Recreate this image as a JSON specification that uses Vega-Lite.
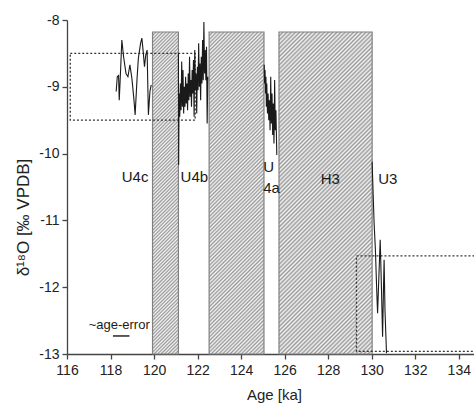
{
  "$schema": "https://vega.github.io/schema/vega-lite/v6.json",
  "width": 407,
  "height": 334,
  "autosize": {"type": "none"},
  "padding": {"left": 67, "top": 20, "right": 0, "bottom": 54},
  "config": {
    "view": {"stroke": null},
    "font": "Liberation Sans",
    "axis": {
      "grid": false,
      "domainColor": "#444",
      "domainWidth": 1.3,
      "tickColor": "#444",
      "tickWidth": 1.3,
      "labelFont": "Liberation Sans Narrow, Liberation Sans",
      "labelFontSize": 14,
      "labelColor": "#222",
      "titleFont": "Liberation Sans",
      "titleFontWeight": "normal",
      "titleColor": "#222",
      "labelOverlap": false,
      "labelFlush": false
    }
  },
  "datasets": {
    "boxes": [
      {"name": "b1", "x1": 119.93, "x2": 121.12, "top": -8.18, "bottom": -13},
      {"name": "b2", "x1": 122.53, "x2": 125.05, "top": -8.18, "bottom": -13},
      {"name": "b3", "x1": 125.74, "x2": 130.02, "top": -8.18, "bottom": -13}
    ],
    "dots": [
      {"x1": 116.15, "x2": 121.89, "top": -8.5, "bottom": -9.5},
      {"x1": 129.3, "x2": 135.2, "top": -11.53, "bottom": -12.96}
    ],
    "series": [
      {"seg": "c", "age": 118.26, "d": -9.07},
      {"seg": "c", "age": 118.31, "d": -8.85},
      {"seg": "c", "age": 118.37, "d": -8.83},
      {"seg": "c", "age": 118.40, "d": -9.20},
      {"seg": "c", "age": 118.44, "d": -8.92},
      {"seg": "c", "age": 118.52, "d": -8.30},
      {"seg": "c", "age": 118.60, "d": -8.55},
      {"seg": "c", "age": 118.71, "d": -8.80},
      {"seg": "c", "age": 118.80, "d": -8.85},
      {"seg": "c", "age": 118.89, "d": -8.67},
      {"seg": "c", "age": 118.98, "d": -8.87},
      {"seg": "c", "age": 119.07, "d": -9.17},
      {"seg": "c", "age": 119.13, "d": -9.42},
      {"seg": "c", "age": 119.22, "d": -8.87},
      {"seg": "c", "age": 119.28, "d": -8.57},
      {"seg": "c", "age": 119.38, "d": -8.35},
      {"seg": "c", "age": 119.44, "d": -8.27},
      {"seg": "c", "age": 119.50, "d": -8.47},
      {"seg": "c", "age": 119.56, "d": -8.70},
      {"seg": "c", "age": 119.62, "d": -8.52},
      {"seg": "c", "age": 119.68, "d": -8.45},
      {"seg": "c", "age": 119.74, "d": -9.42},
      {"seg": "c", "age": 119.81, "d": -9.07},
      {"seg": "c", "age": 119.87, "d": -8.97},
      {"seg": "b", "age": 121.12, "d": -8.50},
      {"seg": "b", "age": 121.13, "d": -10.17},
      {"seg": "b", "age": 121.15, "d": -9.10},
      {"seg": "b", "age": 121.18, "d": -9.45},
      {"seg": "b", "age": 121.21, "d": -8.95},
      {"seg": "b", "age": 121.24, "d": -9.35},
      {"seg": "b", "age": 121.27, "d": -8.62},
      {"seg": "b", "age": 121.30, "d": -9.30},
      {"seg": "b", "age": 121.33, "d": -8.75},
      {"seg": "b", "age": 121.36, "d": -9.40},
      {"seg": "b", "age": 121.39, "d": -9.00},
      {"seg": "b", "age": 121.42, "d": -9.30},
      {"seg": "b", "age": 121.45, "d": -8.85},
      {"seg": "b", "age": 121.48, "d": -9.25},
      {"seg": "b", "age": 121.51, "d": -8.95},
      {"seg": "b", "age": 121.54, "d": -9.35},
      {"seg": "b", "age": 121.57, "d": -8.80},
      {"seg": "b", "age": 121.60, "d": -9.20},
      {"seg": "b", "age": 121.63, "d": -8.55},
      {"seg": "b", "age": 121.66, "d": -9.15},
      {"seg": "b", "age": 121.69, "d": -8.90},
      {"seg": "b", "age": 121.72, "d": -9.30},
      {"seg": "b", "age": 121.75, "d": -8.75},
      {"seg": "b", "age": 121.78, "d": -9.10},
      {"seg": "b", "age": 121.81, "d": -8.60},
      {"seg": "b", "age": 121.84, "d": -9.45},
      {"seg": "b", "age": 121.87, "d": -8.45},
      {"seg": "b", "age": 121.90, "d": -9.05},
      {"seg": "b", "age": 121.93, "d": -8.80},
      {"seg": "b", "age": 121.96, "d": -9.40},
      {"seg": "b", "age": 121.99, "d": -8.70},
      {"seg": "b", "age": 122.02, "d": -9.05},
      {"seg": "b", "age": 122.05, "d": -8.35},
      {"seg": "b", "age": 122.08, "d": -9.00},
      {"seg": "b", "age": 122.11, "d": -8.65},
      {"seg": "b", "age": 122.14, "d": -9.20},
      {"seg": "b", "age": 122.17, "d": -8.55},
      {"seg": "b", "age": 122.20, "d": -8.95},
      {"seg": "b", "age": 122.23, "d": -8.30},
      {"seg": "b", "age": 122.26, "d": -8.90},
      {"seg": "b", "age": 122.29, "d": -8.03},
      {"seg": "b", "age": 122.32, "d": -8.80},
      {"seg": "b", "age": 122.35, "d": -8.45},
      {"seg": "b", "age": 122.38, "d": -8.90},
      {"seg": "b", "age": 122.41, "d": -8.40},
      {"seg": "b", "age": 122.44, "d": -9.55},
      {"seg": "b", "age": 122.47, "d": -8.85},
      {"seg": "a", "age": 125.06, "d": -8.67},
      {"seg": "a", "age": 125.08, "d": -8.95},
      {"seg": "a", "age": 125.10, "d": -8.75},
      {"seg": "a", "age": 125.12, "d": -9.10},
      {"seg": "a", "age": 125.14, "d": -8.85},
      {"seg": "a", "age": 125.16, "d": -9.30},
      {"seg": "a", "age": 125.18, "d": -8.95},
      {"seg": "a", "age": 125.21, "d": -9.40},
      {"seg": "a", "age": 125.24, "d": -9.10},
      {"seg": "a", "age": 125.27, "d": -9.50},
      {"seg": "a", "age": 125.30, "d": -9.20},
      {"seg": "a", "age": 125.33, "d": -9.65},
      {"seg": "a", "age": 125.36, "d": -8.85},
      {"seg": "a", "age": 125.39, "d": -9.55},
      {"seg": "a", "age": 125.42, "d": -9.10},
      {"seg": "a", "age": 125.45, "d": -9.72},
      {"seg": "a", "age": 125.48, "d": -9.25},
      {"seg": "a", "age": 125.51, "d": -9.85},
      {"seg": "a", "age": 125.54, "d": -8.90},
      {"seg": "a", "age": 125.57, "d": -9.65},
      {"seg": "a", "age": 125.60, "d": -9.35},
      {"seg": "a", "age": 125.64, "d": -10.02},
      {"seg": "u3", "age": 130.02, "d": -10.12},
      {"seg": "u3", "age": 130.06, "d": -10.54},
      {"seg": "u3", "age": 130.11, "d": -11.04},
      {"seg": "u3", "age": 130.17, "d": -11.44},
      {"seg": "u3", "age": 130.23, "d": -12.04},
      {"seg": "u3", "age": 130.27, "d": -12.39},
      {"seg": "u3", "age": 130.33, "d": -11.84},
      {"seg": "u3", "age": 130.39, "d": -11.29},
      {"seg": "u3", "age": 130.45, "d": -12.04},
      {"seg": "u3", "age": 130.50, "d": -12.74},
      {"seg": "u3", "age": 130.54, "d": -12.04},
      {"seg": "u3", "age": 130.57, "d": -11.59},
      {"seg": "u3", "age": 130.61, "d": -12.34},
      {"seg": "u3", "age": 130.68, "d": -12.99}
    ],
    "labels": [
      {"x": 119.13, "y": -10.35, "t": "U4c"},
      {"x": 121.85, "y": -10.35, "t": "U4b"},
      {"x": 125.27, "y": -10.2, "t": "U"},
      {"x": 125.4, "y": -10.52, "t": "4a"},
      {"x": 128.1, "y": -10.38, "t": "H3"},
      {"x": 130.74, "y": -10.38, "t": "U3"}
    ],
    "err": [
      {"x": 118.4, "y": -12.56, "x1": 118.11, "x2": 118.87, "yl": -12.73, "t": "~age-error"}
    ]
  },
  "layer": [
    {
      "data": {"name": "boxes"},
      "transform": [{"filter": "datum.name == 'b1'"}],
      "mark": {
        "type": "rect", "stroke": "#808080", "strokeWidth": 1.2,
        "fill": {"gradient": "linear", "x1": 0, "y1": 0, "x2": 0.08634, "y2": 1.07348, "stops": [
{"offset":0,"color":"#999"},{"offset":0.005,"color":"#f6f6f6"},{"offset":0.01,"color":"#999"},{"offset":0.015,"color":"#f6f6f6"},{"offset":0.02,"color":"#999"},{"offset":0.025,"color":"#f6f6f6"},{"offset":0.03,"color":"#999"},{"offset":0.035,"color":"#f6f6f6"},{"offset":0.04,"color":"#999"},{"offset":0.045,"color":"#f6f6f6"},{"offset":0.05,"color":"#999"},{"offset":0.055,"color":"#f6f6f6"},{"offset":0.06,"color":"#999"},{"offset":0.065,"color":"#f6f6f6"},{"offset":0.07,"color":"#999"},{"offset":0.075,"color":"#f6f6f6"},{"offset":0.08,"color":"#999"},{"offset":0.085,"color":"#f6f6f6"},{"offset":0.09,"color":"#999"},{"offset":0.095,"color":"#f6f6f6"},
{"offset":0.1,"color":"#999"},{"offset":0.105,"color":"#f6f6f6"},{"offset":0.11,"color":"#999"},{"offset":0.115,"color":"#f6f6f6"},{"offset":0.12,"color":"#999"},{"offset":0.125,"color":"#f6f6f6"},{"offset":0.13,"color":"#999"},{"offset":0.135,"color":"#f6f6f6"},{"offset":0.14,"color":"#999"},{"offset":0.145,"color":"#f6f6f6"},{"offset":0.15,"color":"#999"},{"offset":0.155,"color":"#f6f6f6"},{"offset":0.16,"color":"#999"},{"offset":0.165,"color":"#f6f6f6"},{"offset":0.17,"color":"#999"},{"offset":0.175,"color":"#f6f6f6"},{"offset":0.18,"color":"#999"},{"offset":0.185,"color":"#f6f6f6"},{"offset":0.19,"color":"#999"},{"offset":0.195,"color":"#f6f6f6"},
{"offset":0.2,"color":"#999"},{"offset":0.205,"color":"#f6f6f6"},{"offset":0.21,"color":"#999"},{"offset":0.215,"color":"#f6f6f6"},{"offset":0.22,"color":"#999"},{"offset":0.225,"color":"#f6f6f6"},{"offset":0.23,"color":"#999"},{"offset":0.235,"color":"#f6f6f6"},{"offset":0.24,"color":"#999"},{"offset":0.245,"color":"#f6f6f6"},{"offset":0.25,"color":"#999"},{"offset":0.255,"color":"#f6f6f6"},{"offset":0.26,"color":"#999"},{"offset":0.265,"color":"#f6f6f6"},{"offset":0.27,"color":"#999"},{"offset":0.275,"color":"#f6f6f6"},{"offset":0.28,"color":"#999"},{"offset":0.285,"color":"#f6f6f6"},{"offset":0.29,"color":"#999"},{"offset":0.295,"color":"#f6f6f6"},
{"offset":0.3,"color":"#999"},{"offset":0.305,"color":"#f6f6f6"},{"offset":0.31,"color":"#999"},{"offset":0.315,"color":"#f6f6f6"},{"offset":0.32,"color":"#999"},{"offset":0.325,"color":"#f6f6f6"},{"offset":0.33,"color":"#999"},{"offset":0.335,"color":"#f6f6f6"},{"offset":0.34,"color":"#999"},{"offset":0.345,"color":"#f6f6f6"},{"offset":0.35,"color":"#999"},{"offset":0.355,"color":"#f6f6f6"},{"offset":0.36,"color":"#999"},{"offset":0.365,"color":"#f6f6f6"},{"offset":0.37,"color":"#999"},{"offset":0.375,"color":"#f6f6f6"},{"offset":0.38,"color":"#999"},{"offset":0.385,"color":"#f6f6f6"},{"offset":0.39,"color":"#999"},{"offset":0.395,"color":"#f6f6f6"},
{"offset":0.4,"color":"#999"},{"offset":0.405,"color":"#f6f6f6"},{"offset":0.41,"color":"#999"},{"offset":0.415,"color":"#f6f6f6"},{"offset":0.42,"color":"#999"},{"offset":0.425,"color":"#f6f6f6"},{"offset":0.43,"color":"#999"},{"offset":0.435,"color":"#f6f6f6"},{"offset":0.44,"color":"#999"},{"offset":0.445,"color":"#f6f6f6"},{"offset":0.45,"color":"#999"},{"offset":0.455,"color":"#f6f6f6"},{"offset":0.46,"color":"#999"},{"offset":0.465,"color":"#f6f6f6"},{"offset":0.47,"color":"#999"},{"offset":0.475,"color":"#f6f6f6"},{"offset":0.48,"color":"#999"},{"offset":0.485,"color":"#f6f6f6"},{"offset":0.49,"color":"#999"},{"offset":0.495,"color":"#f6f6f6"},
{"offset":0.5,"color":"#999"},{"offset":0.505,"color":"#f6f6f6"},{"offset":0.51,"color":"#999"},{"offset":0.515,"color":"#f6f6f6"},{"offset":0.52,"color":"#999"},{"offset":0.525,"color":"#f6f6f6"},{"offset":0.53,"color":"#999"},{"offset":0.535,"color":"#f6f6f6"},{"offset":0.54,"color":"#999"},{"offset":0.545,"color":"#f6f6f6"},{"offset":0.55,"color":"#999"},{"offset":0.555,"color":"#f6f6f6"},{"offset":0.56,"color":"#999"},{"offset":0.565,"color":"#f6f6f6"},{"offset":0.57,"color":"#999"},{"offset":0.575,"color":"#f6f6f6"},{"offset":0.58,"color":"#999"},{"offset":0.585,"color":"#f6f6f6"},{"offset":0.59,"color":"#999"},{"offset":0.595,"color":"#f6f6f6"},
{"offset":0.6,"color":"#999"},{"offset":0.605,"color":"#f6f6f6"},{"offset":0.61,"color":"#999"},{"offset":0.615,"color":"#f6f6f6"},{"offset":0.62,"color":"#999"},{"offset":0.625,"color":"#f6f6f6"},{"offset":0.63,"color":"#999"},{"offset":0.635,"color":"#f6f6f6"},{"offset":0.64,"color":"#999"},{"offset":0.645,"color":"#f6f6f6"},{"offset":0.65,"color":"#999"},{"offset":0.655,"color":"#f6f6f6"},{"offset":0.66,"color":"#999"},{"offset":0.665,"color":"#f6f6f6"},{"offset":0.67,"color":"#999"},{"offset":0.675,"color":"#f6f6f6"},{"offset":0.68,"color":"#999"},{"offset":0.685,"color":"#f6f6f6"},{"offset":0.69,"color":"#999"},{"offset":0.695,"color":"#f6f6f6"},
{"offset":0.7,"color":"#999"},{"offset":0.705,"color":"#f6f6f6"},{"offset":0.71,"color":"#999"},{"offset":0.715,"color":"#f6f6f6"},{"offset":0.72,"color":"#999"},{"offset":0.725,"color":"#f6f6f6"},{"offset":0.73,"color":"#999"},{"offset":0.735,"color":"#f6f6f6"},{"offset":0.74,"color":"#999"},{"offset":0.745,"color":"#f6f6f6"},{"offset":0.75,"color":"#999"},{"offset":0.755,"color":"#f6f6f6"},{"offset":0.76,"color":"#999"},{"offset":0.765,"color":"#f6f6f6"},{"offset":0.77,"color":"#999"},{"offset":0.775,"color":"#f6f6f6"},{"offset":0.78,"color":"#999"},{"offset":0.785,"color":"#f6f6f6"},{"offset":0.79,"color":"#999"},{"offset":0.795,"color":"#f6f6f6"},
{"offset":0.8,"color":"#999"},{"offset":0.805,"color":"#f6f6f6"},{"offset":0.81,"color":"#999"},{"offset":0.815,"color":"#f6f6f6"},{"offset":0.82,"color":"#999"},{"offset":0.825,"color":"#f6f6f6"},{"offset":0.83,"color":"#999"},{"offset":0.835,"color":"#f6f6f6"},{"offset":0.84,"color":"#999"},{"offset":0.845,"color":"#f6f6f6"},{"offset":0.85,"color":"#999"},{"offset":0.855,"color":"#f6f6f6"},{"offset":0.86,"color":"#999"},{"offset":0.865,"color":"#f6f6f6"},{"offset":0.87,"color":"#999"},{"offset":0.875,"color":"#f6f6f6"},{"offset":0.88,"color":"#999"},{"offset":0.885,"color":"#f6f6f6"},{"offset":0.89,"color":"#999"},{"offset":0.895,"color":"#f6f6f6"},
{"offset":0.9,"color":"#999"},{"offset":0.905,"color":"#f6f6f6"},{"offset":0.91,"color":"#999"},{"offset":0.915,"color":"#f6f6f6"},{"offset":0.92,"color":"#999"},{"offset":0.925,"color":"#f6f6f6"},{"offset":0.93,"color":"#999"},{"offset":0.935,"color":"#f6f6f6"},{"offset":0.94,"color":"#999"},{"offset":0.945,"color":"#f6f6f6"},{"offset":0.95,"color":"#999"},{"offset":0.955,"color":"#f6f6f6"},{"offset":0.96,"color":"#999"},{"offset":0.965,"color":"#f6f6f6"},{"offset":0.97,"color":"#999"},{"offset":0.975,"color":"#f6f6f6"},{"offset":0.98,"color":"#999"},{"offset":0.985,"color":"#f6f6f6"},{"offset":0.99,"color":"#999"},{"offset":0.995,"color":"#f6f6f6"},{"offset":1,"color":"#999"}
        ]}
      },
      "encoding": {
        "x": {"field": "x1", "type": "quantitative"},
        "x2": {"field": "x2"},
        "y": {"field": "top", "type": "quantitative"},
        "y2": {"field": "bottom"}
      }
    },
    {
      "data": {"name": "boxes"},
      "transform": [{"filter": "datum.name == 'b2'"}],
      "mark": {
        "type": "rect", "stroke": "#808080", "strokeWidth": 1.2,
        "fill": {"gradient": "linear", "x1": 0, "y1": 0, "x2": 0.19374, "y2": 1.13734, "stops": [
{"offset":0,"color":"#999"},{"offset":0.005,"color":"#f6f6f6"},{"offset":0.01,"color":"#999"},{"offset":0.015,"color":"#f6f6f6"},{"offset":0.02,"color":"#999"},{"offset":0.025,"color":"#f6f6f6"},{"offset":0.03,"color":"#999"},{"offset":0.035,"color":"#f6f6f6"},{"offset":0.04,"color":"#999"},{"offset":0.045,"color":"#f6f6f6"},{"offset":0.05,"color":"#999"},{"offset":0.055,"color":"#f6f6f6"},{"offset":0.06,"color":"#999"},{"offset":0.065,"color":"#f6f6f6"},{"offset":0.07,"color":"#999"},{"offset":0.075,"color":"#f6f6f6"},{"offset":0.08,"color":"#999"},{"offset":0.085,"color":"#f6f6f6"},{"offset":0.09,"color":"#999"},{"offset":0.095,"color":"#f6f6f6"},
{"offset":0.1,"color":"#999"},{"offset":0.105,"color":"#f6f6f6"},{"offset":0.11,"color":"#999"},{"offset":0.115,"color":"#f6f6f6"},{"offset":0.12,"color":"#999"},{"offset":0.125,"color":"#f6f6f6"},{"offset":0.13,"color":"#999"},{"offset":0.135,"color":"#f6f6f6"},{"offset":0.14,"color":"#999"},{"offset":0.145,"color":"#f6f6f6"},{"offset":0.15,"color":"#999"},{"offset":0.155,"color":"#f6f6f6"},{"offset":0.16,"color":"#999"},{"offset":0.165,"color":"#f6f6f6"},{"offset":0.17,"color":"#999"},{"offset":0.175,"color":"#f6f6f6"},{"offset":0.18,"color":"#999"},{"offset":0.185,"color":"#f6f6f6"},{"offset":0.19,"color":"#999"},{"offset":0.195,"color":"#f6f6f6"},
{"offset":0.2,"color":"#999"},{"offset":0.205,"color":"#f6f6f6"},{"offset":0.21,"color":"#999"},{"offset":0.215,"color":"#f6f6f6"},{"offset":0.22,"color":"#999"},{"offset":0.225,"color":"#f6f6f6"},{"offset":0.23,"color":"#999"},{"offset":0.235,"color":"#f6f6f6"},{"offset":0.24,"color":"#999"},{"offset":0.245,"color":"#f6f6f6"},{"offset":0.25,"color":"#999"},{"offset":0.255,"color":"#f6f6f6"},{"offset":0.26,"color":"#999"},{"offset":0.265,"color":"#f6f6f6"},{"offset":0.27,"color":"#999"},{"offset":0.275,"color":"#f6f6f6"},{"offset":0.28,"color":"#999"},{"offset":0.285,"color":"#f6f6f6"},{"offset":0.29,"color":"#999"},{"offset":0.295,"color":"#f6f6f6"},
{"offset":0.3,"color":"#999"},{"offset":0.305,"color":"#f6f6f6"},{"offset":0.31,"color":"#999"},{"offset":0.315,"color":"#f6f6f6"},{"offset":0.32,"color":"#999"},{"offset":0.325,"color":"#f6f6f6"},{"offset":0.33,"color":"#999"},{"offset":0.335,"color":"#f6f6f6"},{"offset":0.34,"color":"#999"},{"offset":0.345,"color":"#f6f6f6"},{"offset":0.35,"color":"#999"},{"offset":0.355,"color":"#f6f6f6"},{"offset":0.36,"color":"#999"},{"offset":0.365,"color":"#f6f6f6"},{"offset":0.37,"color":"#999"},{"offset":0.375,"color":"#f6f6f6"},{"offset":0.38,"color":"#999"},{"offset":0.385,"color":"#f6f6f6"},{"offset":0.39,"color":"#999"},{"offset":0.395,"color":"#f6f6f6"},
{"offset":0.4,"color":"#999"},{"offset":0.405,"color":"#f6f6f6"},{"offset":0.41,"color":"#999"},{"offset":0.415,"color":"#f6f6f6"},{"offset":0.42,"color":"#999"},{"offset":0.425,"color":"#f6f6f6"},{"offset":0.43,"color":"#999"},{"offset":0.435,"color":"#f6f6f6"},{"offset":0.44,"color":"#999"},{"offset":0.445,"color":"#f6f6f6"},{"offset":0.45,"color":"#999"},{"offset":0.455,"color":"#f6f6f6"},{"offset":0.46,"color":"#999"},{"offset":0.465,"color":"#f6f6f6"},{"offset":0.47,"color":"#999"},{"offset":0.475,"color":"#f6f6f6"},{"offset":0.48,"color":"#999"},{"offset":0.485,"color":"#f6f6f6"},{"offset":0.49,"color":"#999"},{"offset":0.495,"color":"#f6f6f6"},
{"offset":0.5,"color":"#999"},{"offset":0.505,"color":"#f6f6f6"},{"offset":0.51,"color":"#999"},{"offset":0.515,"color":"#f6f6f6"},{"offset":0.52,"color":"#999"},{"offset":0.525,"color":"#f6f6f6"},{"offset":0.53,"color":"#999"},{"offset":0.535,"color":"#f6f6f6"},{"offset":0.54,"color":"#999"},{"offset":0.545,"color":"#f6f6f6"},{"offset":0.55,"color":"#999"},{"offset":0.555,"color":"#f6f6f6"},{"offset":0.56,"color":"#999"},{"offset":0.565,"color":"#f6f6f6"},{"offset":0.57,"color":"#999"},{"offset":0.575,"color":"#f6f6f6"},{"offset":0.58,"color":"#999"},{"offset":0.585,"color":"#f6f6f6"},{"offset":0.59,"color":"#999"},{"offset":0.595,"color":"#f6f6f6"},
{"offset":0.6,"color":"#999"},{"offset":0.605,"color":"#f6f6f6"},{"offset":0.61,"color":"#999"},{"offset":0.615,"color":"#f6f6f6"},{"offset":0.62,"color":"#999"},{"offset":0.625,"color":"#f6f6f6"},{"offset":0.63,"color":"#999"},{"offset":0.635,"color":"#f6f6f6"},{"offset":0.64,"color":"#999"},{"offset":0.645,"color":"#f6f6f6"},{"offset":0.65,"color":"#999"},{"offset":0.655,"color":"#f6f6f6"},{"offset":0.66,"color":"#999"},{"offset":0.665,"color":"#f6f6f6"},{"offset":0.67,"color":"#999"},{"offset":0.675,"color":"#f6f6f6"},{"offset":0.68,"color":"#999"},{"offset":0.685,"color":"#f6f6f6"},{"offset":0.69,"color":"#999"},{"offset":0.695,"color":"#f6f6f6"},
{"offset":0.7,"color":"#999"},{"offset":0.705,"color":"#f6f6f6"},{"offset":0.71,"color":"#999"},{"offset":0.715,"color":"#f6f6f6"},{"offset":0.72,"color":"#999"},{"offset":0.725,"color":"#f6f6f6"},{"offset":0.73,"color":"#999"},{"offset":0.735,"color":"#f6f6f6"},{"offset":0.74,"color":"#999"},{"offset":0.745,"color":"#f6f6f6"},{"offset":0.75,"color":"#999"},{"offset":0.755,"color":"#f6f6f6"},{"offset":0.76,"color":"#999"},{"offset":0.765,"color":"#f6f6f6"},{"offset":0.77,"color":"#999"},{"offset":0.775,"color":"#f6f6f6"},{"offset":0.78,"color":"#999"},{"offset":0.785,"color":"#f6f6f6"},{"offset":0.79,"color":"#999"},{"offset":0.795,"color":"#f6f6f6"},
{"offset":0.8,"color":"#999"},{"offset":0.805,"color":"#f6f6f6"},{"offset":0.81,"color":"#999"},{"offset":0.815,"color":"#f6f6f6"},{"offset":0.82,"color":"#999"},{"offset":0.825,"color":"#f6f6f6"},{"offset":0.83,"color":"#999"},{"offset":0.835,"color":"#f6f6f6"},{"offset":0.84,"color":"#999"},{"offset":0.845,"color":"#f6f6f6"},{"offset":0.85,"color":"#999"},{"offset":0.855,"color":"#f6f6f6"},{"offset":0.86,"color":"#999"},{"offset":0.865,"color":"#f6f6f6"},{"offset":0.87,"color":"#999"},{"offset":0.875,"color":"#f6f6f6"},{"offset":0.88,"color":"#999"},{"offset":0.885,"color":"#f6f6f6"},{"offset":0.89,"color":"#999"},{"offset":0.895,"color":"#f6f6f6"},
{"offset":0.9,"color":"#999"},{"offset":0.905,"color":"#f6f6f6"},{"offset":0.91,"color":"#999"},{"offset":0.915,"color":"#f6f6f6"},{"offset":0.92,"color":"#999"},{"offset":0.925,"color":"#f6f6f6"},{"offset":0.93,"color":"#999"},{"offset":0.935,"color":"#f6f6f6"},{"offset":0.94,"color":"#999"},{"offset":0.945,"color":"#f6f6f6"},{"offset":0.95,"color":"#999"},{"offset":0.955,"color":"#f6f6f6"},{"offset":0.96,"color":"#999"},{"offset":0.965,"color":"#f6f6f6"},{"offset":0.97,"color":"#999"},{"offset":0.975,"color":"#f6f6f6"},{"offset":0.98,"color":"#999"},{"offset":0.985,"color":"#f6f6f6"},{"offset":0.99,"color":"#999"},{"offset":0.995,"color":"#f6f6f6"},{"offset":1,"color":"#999"}
        ]}
      },
      "encoding": {
        "x": {"field": "x1", "type": "quantitative"},
        "x2": {"field": "x2"},
        "y": {"field": "top", "type": "quantitative"},
        "y2": {"field": "bottom"}
      }
    },
    {
      "data": {"name": "boxes"},
      "transform": [{"filter": "datum.name == 'b3'"}],
      "mark": {
        "type": "rect", "stroke": "#808080", "strokeWidth": 1.2,
        "fill": {"gradient": "linear", "x1": 0, "y1": 0, "x2": 0.34417, "y2": 1.18973, "stops": [
{"offset":0,"color":"#999"},{"offset":0.005,"color":"#f6f6f6"},{"offset":0.01,"color":"#999"},{"offset":0.015,"color":"#f6f6f6"},{"offset":0.02,"color":"#999"},{"offset":0.025,"color":"#f6f6f6"},{"offset":0.03,"color":"#999"},{"offset":0.035,"color":"#f6f6f6"},{"offset":0.04,"color":"#999"},{"offset":0.045,"color":"#f6f6f6"},{"offset":0.05,"color":"#999"},{"offset":0.055,"color":"#f6f6f6"},{"offset":0.06,"color":"#999"},{"offset":0.065,"color":"#f6f6f6"},{"offset":0.07,"color":"#999"},{"offset":0.075,"color":"#f6f6f6"},{"offset":0.08,"color":"#999"},{"offset":0.085,"color":"#f6f6f6"},{"offset":0.09,"color":"#999"},{"offset":0.095,"color":"#f6f6f6"},
{"offset":0.1,"color":"#999"},{"offset":0.105,"color":"#f6f6f6"},{"offset":0.11,"color":"#999"},{"offset":0.115,"color":"#f6f6f6"},{"offset":0.12,"color":"#999"},{"offset":0.125,"color":"#f6f6f6"},{"offset":0.13,"color":"#999"},{"offset":0.135,"color":"#f6f6f6"},{"offset":0.14,"color":"#999"},{"offset":0.145,"color":"#f6f6f6"},{"offset":0.15,"color":"#999"},{"offset":0.155,"color":"#f6f6f6"},{"offset":0.16,"color":"#999"},{"offset":0.165,"color":"#f6f6f6"},{"offset":0.17,"color":"#999"},{"offset":0.175,"color":"#f6f6f6"},{"offset":0.18,"color":"#999"},{"offset":0.185,"color":"#f6f6f6"},{"offset":0.19,"color":"#999"},{"offset":0.195,"color":"#f6f6f6"},
{"offset":0.2,"color":"#999"},{"offset":0.205,"color":"#f6f6f6"},{"offset":0.21,"color":"#999"},{"offset":0.215,"color":"#f6f6f6"},{"offset":0.22,"color":"#999"},{"offset":0.225,"color":"#f6f6f6"},{"offset":0.23,"color":"#999"},{"offset":0.235,"color":"#f6f6f6"},{"offset":0.24,"color":"#999"},{"offset":0.245,"color":"#f6f6f6"},{"offset":0.25,"color":"#999"},{"offset":0.255,"color":"#f6f6f6"},{"offset":0.26,"color":"#999"},{"offset":0.265,"color":"#f6f6f6"},{"offset":0.27,"color":"#999"},{"offset":0.275,"color":"#f6f6f6"},{"offset":0.28,"color":"#999"},{"offset":0.285,"color":"#f6f6f6"},{"offset":0.29,"color":"#999"},{"offset":0.295,"color":"#f6f6f6"},
{"offset":0.3,"color":"#999"},{"offset":0.305,"color":"#f6f6f6"},{"offset":0.31,"color":"#999"},{"offset":0.315,"color":"#f6f6f6"},{"offset":0.32,"color":"#999"},{"offset":0.325,"color":"#f6f6f6"},{"offset":0.33,"color":"#999"},{"offset":0.335,"color":"#f6f6f6"},{"offset":0.34,"color":"#999"},{"offset":0.345,"color":"#f6f6f6"},{"offset":0.35,"color":"#999"},{"offset":0.355,"color":"#f6f6f6"},{"offset":0.36,"color":"#999"},{"offset":0.365,"color":"#f6f6f6"},{"offset":0.37,"color":"#999"},{"offset":0.375,"color":"#f6f6f6"},{"offset":0.38,"color":"#999"},{"offset":0.385,"color":"#f6f6f6"},{"offset":0.39,"color":"#999"},{"offset":0.395,"color":"#f6f6f6"},
{"offset":0.4,"color":"#999"},{"offset":0.405,"color":"#f6f6f6"},{"offset":0.41,"color":"#999"},{"offset":0.415,"color":"#f6f6f6"},{"offset":0.42,"color":"#999"},{"offset":0.425,"color":"#f6f6f6"},{"offset":0.43,"color":"#999"},{"offset":0.435,"color":"#f6f6f6"},{"offset":0.44,"color":"#999"},{"offset":0.445,"color":"#f6f6f6"},{"offset":0.45,"color":"#999"},{"offset":0.455,"color":"#f6f6f6"},{"offset":0.46,"color":"#999"},{"offset":0.465,"color":"#f6f6f6"},{"offset":0.47,"color":"#999"},{"offset":0.475,"color":"#f6f6f6"},{"offset":0.48,"color":"#999"},{"offset":0.485,"color":"#f6f6f6"},{"offset":0.49,"color":"#999"},{"offset":0.495,"color":"#f6f6f6"},
{"offset":0.5,"color":"#999"},{"offset":0.505,"color":"#f6f6f6"},{"offset":0.51,"color":"#999"},{"offset":0.515,"color":"#f6f6f6"},{"offset":0.52,"color":"#999"},{"offset":0.525,"color":"#f6f6f6"},{"offset":0.53,"color":"#999"},{"offset":0.535,"color":"#f6f6f6"},{"offset":0.54,"color":"#999"},{"offset":0.545,"color":"#f6f6f6"},{"offset":0.55,"color":"#999"},{"offset":0.555,"color":"#f6f6f6"},{"offset":0.56,"color":"#999"},{"offset":0.565,"color":"#f6f6f6"},{"offset":0.57,"color":"#999"},{"offset":0.575,"color":"#f6f6f6"},{"offset":0.58,"color":"#999"},{"offset":0.585,"color":"#f6f6f6"},{"offset":0.59,"color":"#999"},{"offset":0.595,"color":"#f6f6f6"},
{"offset":0.6,"color":"#999"},{"offset":0.605,"color":"#f6f6f6"},{"offset":0.61,"color":"#999"},{"offset":0.615,"color":"#f6f6f6"},{"offset":0.62,"color":"#999"},{"offset":0.625,"color":"#f6f6f6"},{"offset":0.63,"color":"#999"},{"offset":0.635,"color":"#f6f6f6"},{"offset":0.64,"color":"#999"},{"offset":0.645,"color":"#f6f6f6"},{"offset":0.65,"color":"#999"},{"offset":0.655,"color":"#f6f6f6"},{"offset":0.66,"color":"#999"},{"offset":0.665,"color":"#f6f6f6"},{"offset":0.67,"color":"#999"},{"offset":0.675,"color":"#f6f6f6"},{"offset":0.68,"color":"#999"},{"offset":0.685,"color":"#f6f6f6"},{"offset":0.69,"color":"#999"},{"offset":0.695,"color":"#f6f6f6"},
{"offset":0.7,"color":"#999"},{"offset":0.705,"color":"#f6f6f6"},{"offset":0.71,"color":"#999"},{"offset":0.715,"color":"#f6f6f6"},{"offset":0.72,"color":"#999"},{"offset":0.725,"color":"#f6f6f6"},{"offset":0.73,"color":"#999"},{"offset":0.735,"color":"#f6f6f6"},{"offset":0.74,"color":"#999"},{"offset":0.745,"color":"#f6f6f6"},{"offset":0.75,"color":"#999"},{"offset":0.755,"color":"#f6f6f6"},{"offset":0.76,"color":"#999"},{"offset":0.765,"color":"#f6f6f6"},{"offset":0.77,"color":"#999"},{"offset":0.775,"color":"#f6f6f6"},{"offset":0.78,"color":"#999"},{"offset":0.785,"color":"#f6f6f6"},{"offset":0.79,"color":"#999"},{"offset":0.795,"color":"#f6f6f6"},
{"offset":0.8,"color":"#999"},{"offset":0.805,"color":"#f6f6f6"},{"offset":0.81,"color":"#999"},{"offset":0.815,"color":"#f6f6f6"},{"offset":0.82,"color":"#999"},{"offset":0.825,"color":"#f6f6f6"},{"offset":0.83,"color":"#999"},{"offset":0.835,"color":"#f6f6f6"},{"offset":0.84,"color":"#999"},{"offset":0.845,"color":"#f6f6f6"},{"offset":0.85,"color":"#999"},{"offset":0.855,"color":"#f6f6f6"},{"offset":0.86,"color":"#999"},{"offset":0.865,"color":"#f6f6f6"},{"offset":0.87,"color":"#999"},{"offset":0.875,"color":"#f6f6f6"},{"offset":0.88,"color":"#999"},{"offset":0.885,"color":"#f6f6f6"},{"offset":0.89,"color":"#999"},{"offset":0.895,"color":"#f6f6f6"},
{"offset":0.9,"color":"#999"},{"offset":0.905,"color":"#f6f6f6"},{"offset":0.91,"color":"#999"},{"offset":0.915,"color":"#f6f6f6"},{"offset":0.92,"color":"#999"},{"offset":0.925,"color":"#f6f6f6"},{"offset":0.93,"color":"#999"},{"offset":0.935,"color":"#f6f6f6"},{"offset":0.94,"color":"#999"},{"offset":0.945,"color":"#f6f6f6"},{"offset":0.95,"color":"#999"},{"offset":0.955,"color":"#f6f6f6"},{"offset":0.96,"color":"#999"},{"offset":0.965,"color":"#f6f6f6"},{"offset":0.97,"color":"#999"},{"offset":0.975,"color":"#f6f6f6"},{"offset":0.98,"color":"#999"},{"offset":0.985,"color":"#f6f6f6"},{"offset":0.99,"color":"#999"},{"offset":0.995,"color":"#f6f6f6"},{"offset":1,"color":"#999"}
        ]}
      },
      "encoding": {
        "x": {"field": "x1", "type": "quantitative"},
        "x2": {"field": "x2"},
        "y": {"field": "top", "type": "quantitative"},
        "y2": {"field": "bottom"}
      }
    },
    {
      "data": {"name": "dots"},
      "mark": {"type": "rect", "filled": false, "stroke": "#333", "strokeWidth": 1.3, "strokeDash": [2, 2], "clip": true},
      "encoding": {
        "x": {"field": "x1", "type": "quantitative"},
        "x2": {"field": "x2"},
        "y": {"field": "top", "type": "quantitative"},
        "y2": {"field": "bottom"}
      }
    },
    {
      "data": {"name": "series"},
      "mark": {"type": "line", "stroke": "#1a1a1a", "strokeWidth": 1.1, "clip": true},
      "encoding": {
        "x": {
          "field": "age", "type": "quantitative",
          "scale": {"domain": [116, 134.7], "nice": false, "zero": false},
          "axis": {
            "title": "Age [ka]",
            "titleFontSize": 15,
            "titleX": 207,
            "titleAlign": "center",
            "titlePadding": 10,
            "values": [116,117,118,119,120,121,122,123,124,125,126,127,128,129,130,131,132,133,134],
            "labelExpr": "datum.value % 2 == 0 ? '' + datum.value : ''",
            "labelPadding": 4,
            "tickSize": {"condition": {"test": "datum.value % 2 != 0", "value": 3}, "value": 5}
          }
        },
        "y": {
          "field": "d", "type": "quantitative",
          "scale": {"domain": [-13, -8], "nice": false, "zero": false},
          "axis": {
            "title": "δ¹⁸O [‰ VPDB]",
            "titleFontSize": 17,
            "titleX": -44,
            "titleY": 197,
            "titleAlign": "center",
            "titleBaseline": "middle",
            "titleAngle": -90,
            "values": [-13,-12.5,-12,-11.5,-11,-10.5,-10,-9.5,-9,-8.5,-8],
            "labelExpr": "datum.value % 1 == 0 ? '' + datum.value : ''",
            "labelPadding": 3,
            "tickSize": {"condition": {"test": "datum.value % 1 != 0", "value": 3}, "value": 5}
          }
        },
        "detail": {"field": "seg"}
      }
    },
    {
      "data": {"name": "labels"},
      "mark": {"type": "text", "font": "Liberation Sans", "fontSize": 15, "color": "#1a1a1a", "align": "center", "baseline": "middle"},
      "encoding": {
        "x": {"field": "x", "type": "quantitative"},
        "y": {"field": "y", "type": "quantitative"},
        "text": {"field": "t"}
      }
    },
    {
      "data": {"name": "err"},
      "mark": {"type": "text", "font": "Liberation Sans", "fontSize": 13, "color": "#1a1a1a", "align": "center", "baseline": "middle"},
      "encoding": {
        "x": {"field": "x", "type": "quantitative"},
        "y": {"field": "y", "type": "quantitative"},
        "text": {"field": "t"}
      }
    },
    {
      "data": {"name": "err"},
      "mark": {"type": "rule", "stroke": "#333", "strokeWidth": 1.6},
      "encoding": {
        "x": {"field": "x1", "type": "quantitative"},
        "x2": {"field": "x2"},
        "y": {"field": "yl", "type": "quantitative"}
      }
    }
  ]
}
